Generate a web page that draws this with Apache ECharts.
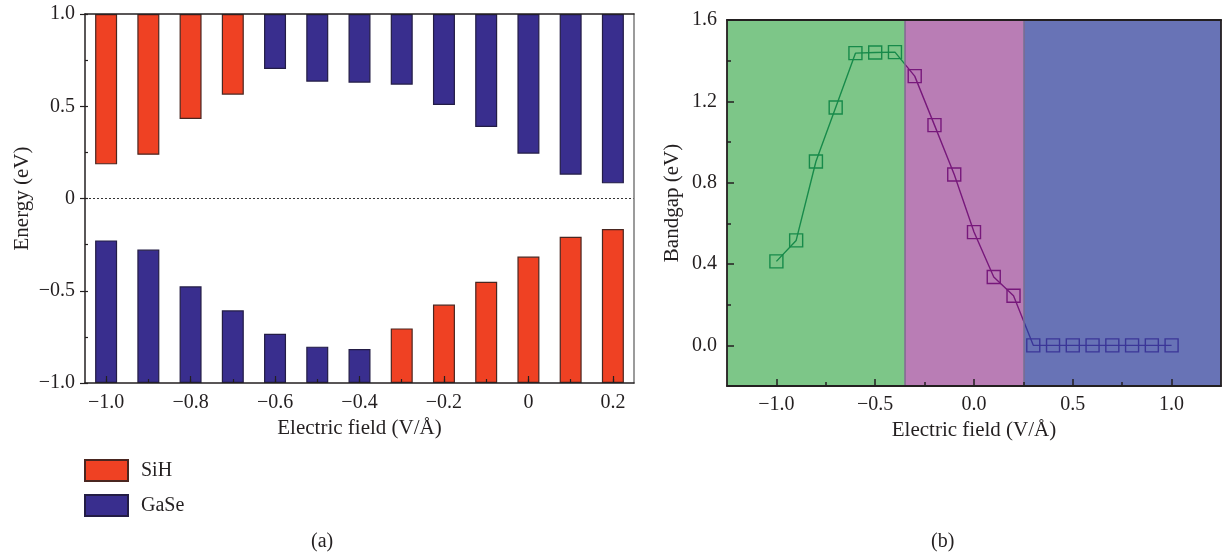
<!DOCTYPE html>
<html>
<head>
<meta charset="utf-8">
<script src="https://cdn.jsdelivr.net/npm/echarts@6/dist/echarts.min.js"></script>
<style>
html,body{margin:0;padding:0;background:#fff;}
#chart{width:1222px;height:557px;}
</style>
</head>
<body>
<div id="chart"></div>
<script>
// ---------- Data: panel (a) ----------
const categories = ['-1.0','-0.9','-0.8','-0.7','-0.6','-0.5','-0.4','-0.3','-0.2','-0.1','0.0','0.1','0.2'];
const cbmValues = [0.185, 0.237, 0.431, 0.563, 0.702, 0.633, 0.628, 0.617, 0.507, 0.388, 0.243, 0.129, 0.082];
const cbmMaterial = ['SiH','SiH','SiH','SiH','GaSe','GaSe','GaSe','GaSe','GaSe','GaSe','GaSe','GaSe','GaSe'];
const vbmValues = [-0.227, -0.277, -0.476, -0.606, -0.733, -0.803, -0.816, -0.704, -0.575, -0.451, -0.315, -0.207, -0.165];
const vbmMaterial = ['GaSe','GaSe','GaSe','GaSe','GaSe','GaSe','GaSe','SiH','SiH','SiH','SiH','SiH','SiH'];
const materials = ['SiH', 'GaSe'];
const energyTickLabels = [-1.0, -0.5, 0, 0.5, 1.0];

// ---------- Data: panel (b) ----------
const fieldValues = [-1.0,-0.9,-0.8,-0.7,-0.6,-0.5,-0.4,-0.3,-0.2,-0.1,0.0,0.1,0.2,0.3,0.4,0.5,0.6,0.7,0.8,0.9,1.0];
const bandgapValues = [0.413,0.516,0.904,1.170,1.437,1.440,1.442,1.324,1.083,0.840,0.557,0.336,0.244,0,0,0,0,0,0,0,0];
const phaseNames = ['Indirect', 'Direct', 'Metal'];
const phaseBounds = [-1.25, -0.35, 0.25, 1.25];
const fieldTickLabels = [-1.0, -0.5, 0.0, 0.5, 1.0];
const fieldMinorTicks = [-0.75, -0.25, 0.25, 0.75];
const bandgapTickLabels = [0.0, 0.4, 0.8, 1.2, 1.6];
const bandgapMinorTicks = [0.2, 0.6, 1.0, 1.4];

// ---------- Styles ----------
const FONT = "'Liberation Serif', 'DejaVu Serif', serif";
const FS = 20;
const INK = '#231f20';
const matStyle = {
  SiH:  { color: '#ef4123', borderColor: '#4a2620', borderWidth: 1.2 },
  GaSe: { color: '#392e8e', borderColor: '#231c45', borderWidth: 1.2 }
};
const phaseFill = ['#7dc688', '#b97db5', '#6873b6'];
const phaseLine = ['#178a4a', '#77187b', '#3b3698'];
const minus = s => String(s).replace('-', '\u2212');

const phaseOf = x => (x < phaseBounds[1] ? 0 : (x < phaseBounds[2] ? 1 : 2));
const bandgapPoints = fieldValues.map((x, i) => [x, bandgapValues[i]]);

const chart = echarts.init(document.getElementById('chart'), null, { renderer: 'canvas' });

const labelStyle = { fontFamily: FONT, fontSize: FS, color: INK };
const nameStyle = { fontFamily: FONT, fontSize: 21, color: INK };

const option = {
  animation: false,
  backgroundColor: '#fff',
  grid: [
    { left: 85, top: 14, width: 549, height: 369, show: false },
    { left: 727, top: 20, width: 494, height: 366, show: false }
  ],
  legend: {
    left: 84, top: 459, orient: 'vertical', itemWidth: 43, itemHeight: 21, itemGap: 12,
    padding: 0, icon: 'rect', selectedMode: false,
    data: materials,
    textStyle: { fontFamily: FONT, fontSize: FS, color: INK, padding: [0, 0, 0, 8] }
  },
  xAxis: [
    { // (a) main category axis
      type: 'category', gridIndex: 0, data: categories, position: 'bottom', z: 10,
      axisLine: { onZero: false, lineStyle: { color: INK, width: 1.5 } },
      axisTick: { show: true, inside: true, length: 4, alignWithLabel: true, interval: 0, lineStyle: { color: INK, width: 1.2 } },
      axisLabel: { interval: 1, margin: 10, ...labelStyle, formatter: v => (Number(v) === 0 ? '0' : minus(v)) },
      splitLine: { show: false },
      name: 'Electric field (V/\u00c5)', nameLocation: 'middle', nameGap: 34,
      nameTextStyle: nameStyle
    },
    { // (a) longer ticks at labelled categories
      type: 'category', gridIndex: 0, data: categories, position: 'bottom', z: 10,
      axisLine: { show: false, onZero: false },
      axisTick: { show: true, inside: true, length: 7, alignWithLabel: true, interval: 1, lineStyle: { color: INK, width: 1.2 } },
      axisLabel: { show: false }, splitLine: { show: false }
    },
    { // (a) top frame
      type: 'category', gridIndex: 0, data: categories, position: 'top', z: 10,
      axisLine: { onZero: false, lineStyle: { color: INK, width: 1.5 } },
      axisTick: { show: false }, axisLabel: { show: false }, splitLine: { show: false }
    },
    { // (b) main value axis
      type: 'value', gridIndex: 1, min: -1.25, max: 1.25, interval: 0.25, position: 'bottom', z: 10,
      axisLine: { onZero: false, lineStyle: { color: INK, width: 1.8 } },
      axisTick: { show: true, inside: true, length: 7, customValues: fieldTickLabels, lineStyle: { color: INK, width: 1.5 } },
      axisLabel: { customValues: fieldTickLabels, margin: 9, ...labelStyle, formatter: v => minus(Number(v).toFixed(1)) },
      splitLine: { show: false },
      name: 'Electric field (V/\u00c5)', nameLocation: 'middle', nameGap: 34,
      nameTextStyle: nameStyle
    },
    { // (b) minor ticks
      type: 'value', gridIndex: 1, min: -1.25, max: 1.25, interval: 0.25, position: 'bottom', z: 10,
      axisLine: { show: false, onZero: false },
      axisTick: { show: true, inside: true, length: 4, customValues: fieldMinorTicks, lineStyle: { color: INK, width: 1.5 } },
      axisLabel: { show: false }, splitLine: { show: false }
    },
    { // (b) top frame
      type: 'value', gridIndex: 1, min: -1.25, max: 1.25, interval: 0.25, position: 'top', z: 10,
      axisLine: { onZero: false, lineStyle: { color: INK, width: 1.8 } },
      axisTick: { show: false }, axisLabel: { show: false }, splitLine: { show: false }
    }
  ],
  yAxis: [
    { // (a) main
      type: 'value', gridIndex: 0, min: -1, max: 1, interval: 0.5, position: 'left', z: 10,
      axisLine: { show: true, onZero: false, lineStyle: { color: INK, width: 1.5 } },
      axisTick: { show: true, inside: false, length: 5, customValues: energyTickLabels, lineStyle: { color: INK, width: 1.2 } },
      axisLabel: { margin: 10, ...labelStyle, formatter: v => (v === 0 ? '0' : minus(v.toFixed(1))) },
      splitLine: { show: false },
      name: 'Energy (eV)', nameLocation: 'middle', nameGap: 52,
      nameTextStyle: nameStyle
    },
    { // (a) minor ticks
      type: 'value', gridIndex: 0, min: -1, max: 1, interval: 0.25, position: 'left', z: 10,
      axisLine: { show: false, onZero: false },
      axisTick: { show: true, inside: true, length: 3, lineStyle: { color: INK, width: 1.2 } },
      axisLabel: { show: false }, splitLine: { show: false }
    },
    { // (a) right frame
      type: 'value', gridIndex: 0, min: -1, max: 1, interval: 0.5, position: 'right', z: 10,
      axisLine: { show: true, onZero: false, lineStyle: { color: '#7a7a7a', width: 1.5 } },
      axisTick: { show: false }, axisLabel: { show: false }, splitLine: { show: false }
    },
    { // (b) main
      type: 'value', gridIndex: 1, min: -0.2, max: 1.6, interval: 0.2, position: 'left', z: 10,
      axisLine: { show: true, onZero: false, lineStyle: { color: INK, width: 1.8 } },
      axisTick: { show: true, inside: true, length: 7, customValues: bandgapTickLabels, lineStyle: { color: INK, width: 1.5 } },
      axisLabel: { customValues: bandgapTickLabels, margin: 10, ...labelStyle, formatter: v => Number(v).toFixed(1) },
      splitLine: { show: false },
      name: 'Bandgap (eV)', nameLocation: 'middle', nameGap: 44,
      nameTextStyle: nameStyle
    },
    { // (b) minor ticks
      type: 'value', gridIndex: 1, min: -0.2, max: 1.6, interval: 0.2, position: 'left', z: 10,
      axisLine: { show: false, onZero: false },
      axisTick: { show: true, inside: true, length: 4, customValues: bandgapMinorTicks, lineStyle: { color: INK, width: 1.5 } },
      axisLabel: { show: false }, splitLine: { show: false }
    },
    { // (b) right frame
      type: 'value', gridIndex: 1, min: -0.2, max: 1.6, interval: 0.2, position: 'right', z: 10,
      axisLine: { show: true, onZero: false, lineStyle: { color: INK, width: 1.8 } },
      axisTick: { show: false }, axisLabel: { show: false }, splitLine: { show: false }
    }
  ],
  visualMap: [{
    type: 'piecewise', show: false, seriesIndex: 7, dimension: 0,
    pieces: [
      { lt: phaseBounds[1], color: phaseLine[0] },
      { gte: phaseBounds[1], lt: phaseBounds[2], color: phaseLine[1] },
      { gte: phaseBounds[2], color: phaseLine[2] }
    ]
  }],
  series: [
    { // 0: conduction band base (transparent)
      type: 'bar', xAxisIndex: 0, yAxisIndex: 0, stack: 'e', barWidth: 22, silent: true,
      itemStyle: { color: 'rgba(0,0,0,0)' },
      data: cbmValues,
      markLine: {
        silent: true, symbol: ['none', 'none'], label: { show: false },
        lineStyle: { color: '#333', type: [2, 2], width: 1 },
        data: [{ yAxis: 0 }]
      }
    },
    { // 1: conduction band bars
      type: 'bar', xAxisIndex: 0, yAxisIndex: 0, stack: 'e', barWidth: 22, silent: true,
      data: cbmValues.map((v, i) => ({ value: 1 - v, itemStyle: matStyle[cbmMaterial[i]] }))
    },
    { // 2: valence band base (transparent)
      type: 'bar', xAxisIndex: 0, yAxisIndex: 0, stack: 'e', barWidth: 22, silent: true,
      itemStyle: { color: 'rgba(0,0,0,0)' },
      data: vbmValues
    },
    { // 3: valence band bars
      type: 'bar', xAxisIndex: 0, yAxisIndex: 0, stack: 'e', barWidth: 22, silent: true,
      data: vbmValues.map((v, i) => ({ value: -1 - v, itemStyle: matStyle[vbmMaterial[i]] }))
    },
    { // 4, 5: legend entries
      name: 'SiH', type: 'bar', xAxisIndex: 0, yAxisIndex: 0, stack: 'e', barWidth: 22,
      itemStyle: matStyle.SiH, data: []
    },
    {
      name: 'GaSe', type: 'bar', xAxisIndex: 0, yAxisIndex: 0, stack: 'e', barWidth: 22,
      itemStyle: matStyle.GaSe, data: []
    },
    { // 6: phase regions
      type: 'line', xAxisIndex: 3, yAxisIndex: 3, data: [], z: 1, silent: true,
      markArea: {
        silent: true,
        data: phaseNames.map((n, k) => [
          { xAxis: phaseBounds[k], itemStyle: { color: phaseFill[k] } },
          { xAxis: phaseBounds[k + 1] }
        ])
      },
      markLine: {
        silent: true, symbol: ['none', 'none'], label: { show: false },
        lineStyle: { color: '#7d6a8c', type: 'solid', width: 1.5 },
        data: [{ xAxis: phaseBounds[1] }, { xAxis: phaseBounds[2] }]
      }
    },
    { // 7: bandgap line coloured by phase
      type: 'line', xAxisIndex: 3, yAxisIndex: 3, z: 4, silent: true,
      showSymbol: false, symbol: 'none',
      lineStyle: { width: 1.4 },
      data: bandgapPoints
    },
    // 8-10: square markers per phase
    ...phaseNames.map((n, k) => ({
      type: 'scatter', xAxisIndex: 3, yAxisIndex: 3, z: 5, silent: true,
      symbol: 'rect', symbolSize: 13,
      itemStyle: { color: 'rgba(0,0,0,0)', borderColor: phaseLine[k], borderWidth: 1.4, opacity: 1 },
      data: bandgapPoints.filter(p => phaseOf(p[0]) === k)
    }))
  ],
  graphic: [
    { type: 'text', left: 743, top: 279, style: { text: phaseNames[0], font: "21px " + FONT, fill: INK } },
    { type: 'text', left: 908, top: 297, style: { text: phaseNames[1], font: "21px " + FONT, fill: INK } },
    { type: 'text', left: 1079, top: 301, style: { text: phaseNames[2], font: "21px " + FONT, fill: INK } },
    { type: 'text', left: 311, top: 532, style: { text: '(a)', font: FS + "px " + FONT, fill: INK } },
    { type: 'text', left: 931, top: 532, style: { text: '(b)', font: FS + "px " + FONT, fill: INK } }
  ]
};

chart.setOption(option);
</script>
</body>
</html>
